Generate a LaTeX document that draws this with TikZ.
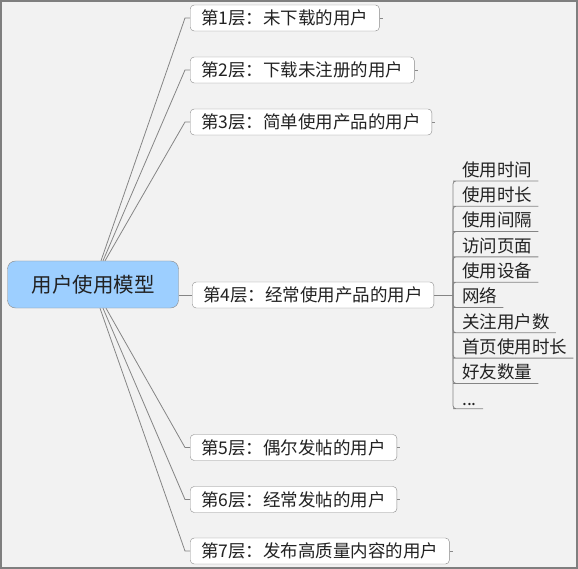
\documentclass[tikz,border=0pt]{standalone}
\usepackage{fontspec}
\setmainfont{Noto Sans CJK SC}
\usetikzlibrary{positioning, calc}
\definecolor{rootblue}{HTML}{9DCFFF}
\definecolor{boxgray}{HTML}{8A8A8A}
\definecolor{linegray}{HTML}{858585}
\definecolor{bggray}{HTML}{F2F2F2}
\definecolor{framegray}{HTML}{7F7F7F}
\definecolor{inkgray}{HTML}{222222}

\begin{document}
\begin{tikzpicture}[
    x=1pt, y=-1pt,
    every node/.style={font=\fontsize{17.5}{20}\selectfont, text=inkgray},
    root/.style={
      rectangle, rounded corners=8pt, draw=boxgray, fill=rootblue,
      minimum width=171pt, minimum height=47pt, align=center,
      font=\fontsize{20.5}{24}\selectfont
    },
    layer/.style={
      rectangle, rounded corners=4pt, draw=boxgray, fill=white,
      minimum height=26pt, inner xsep=11pt, inner ysep=0pt, anchor=west
    },
    item/.style={
      inner xsep=6pt, inner ysep=3pt, anchor=south west
    },
    link/.style={draw=linegray, line width=0.8pt},
    stub/.style={draw=boxgray, line width=0.8pt},
  ]

  % canvas
  \useasboundingbox (0,0) rectangle (578,569);
  \fill[bggray] (0,0) rectangle (578,569);
  \draw[framegray, line width=1.6pt] (0.8,0.8) rectangle (577.2,568.2);

  \node[root] (root) at (93,284.5) {用户使用模型};

  \node[layer] (l1) at (190,18)    {第1层：未下载的用户};
  \node[layer] (l2) at (190,70)    {第2层：下载未注册的用户};
  \node[layer] (l3) at (190,122)   {第3层：简单使用产品的用户};
  \node[layer] (l4) at (192,295)   {第4层：经常使用产品的用户};
  \node[layer] (l5) at (190,447.5) {第5层：偶尔发帖的用户};
  \node[layer] (l6) at (190,499.5) {第6层：经常发帖的用户};
  \node[layer] (l7) at (190,551)   {第7层：发布高质量内容的用户};

  % details of layer 4
  \coordinate (hub) at (453,295);
  \node[item] (i1)  at (456,181)   {使用时间};
  \node[item] (i2)  at (456,206.3) {使用时长};
  \node[item] (i3)  at (456,231.6) {使用间隔};
  \node[item] (i4)  at (456,256.9) {访问页面};
  \node[item] (i5)  at (456,282.2) {使用设备};
  \node[item] (i6)  at (456,307.5) {网络};
  \node[item] (i7)  at (456,332.8) {关注用户数};
  \node[item] (i8)  at (456,358.1) {首页使用时长};
  \node[item] (i9)  at (456,383.4) {好友数量};
  \node[item] (i10) at (456,408.7) {...};

  \draw[link] ($(root.north)+(8,0)$)  -- ($(l1.west)+(-5,0)$) -- (l1.west);
  \draw[link] ($(root.north)+(10,0)$) -- ($(l2.west)+(-5,0)$) -- (l2.west);
  \draw[link] ($(root.north)+(12,0)$) -- ($(l3.west)+(-5,0)$) -- (l3.west);
  \draw[link] (root.east |- l4.west) -- (l4.west);
  \draw[link] ($(root.south)+(13,0)$) -- ($(l5.west)+(-5,0)$) -- (l5.west);
  \draw[link] ($(root.south)+(10,0)$) -- ($(l6.west)+(-5,0)$) -- (l6.west);
  \draw[link] ($(root.south)+(7,0)$)  -- ($(l7.west)+(-5,0)$) -- (l7.west);

  \draw[stub] (l1.east) -- ++(3,0);
  \draw[stub] (l2.east) -- ++(3,0);
  \draw[stub] (l3.east) -- ++(3,0);
  \draw[stub] (l5.east) -- ++(3,0);
  \draw[stub] (l6.east) -- ++(3,0);
  \draw[stub] (l7.east) -- ++(3,0);

  \draw[link] (l4.east) -- (hub);
  \draw[link, rounded corners=3pt] (hub) |- (i1.south west) -- (i1.south east);
  \draw[link, rounded corners=3pt] (hub) |- (i2.south west) -- (i2.south east);
  \draw[link, rounded corners=3pt] (hub) |- (i3.south west) -- (i3.south east);
  \draw[link, rounded corners=3pt] (hub) |- (i4.south west) -- (i4.south east);
  \draw[link, rounded corners=3pt] (hub) |- (i5.south west) -- (i5.south east);
  \draw[link, rounded corners=3pt] (hub) |- (i6.south west) -- (i6.south east);
  \draw[link, rounded corners=3pt] (hub) |- (i7.south west) -- (i7.south east);
  \draw[link, rounded corners=3pt] (hub) |- (i8.south west) -- (i8.south east);
  \draw[link, rounded corners=3pt] (hub) |- (i9.south west) -- (i9.south east);
  \draw[link, rounded corners=3pt] (hub) |- (i10.south west) -- (i10.south east);

\end{tikzpicture}
\end{document}
